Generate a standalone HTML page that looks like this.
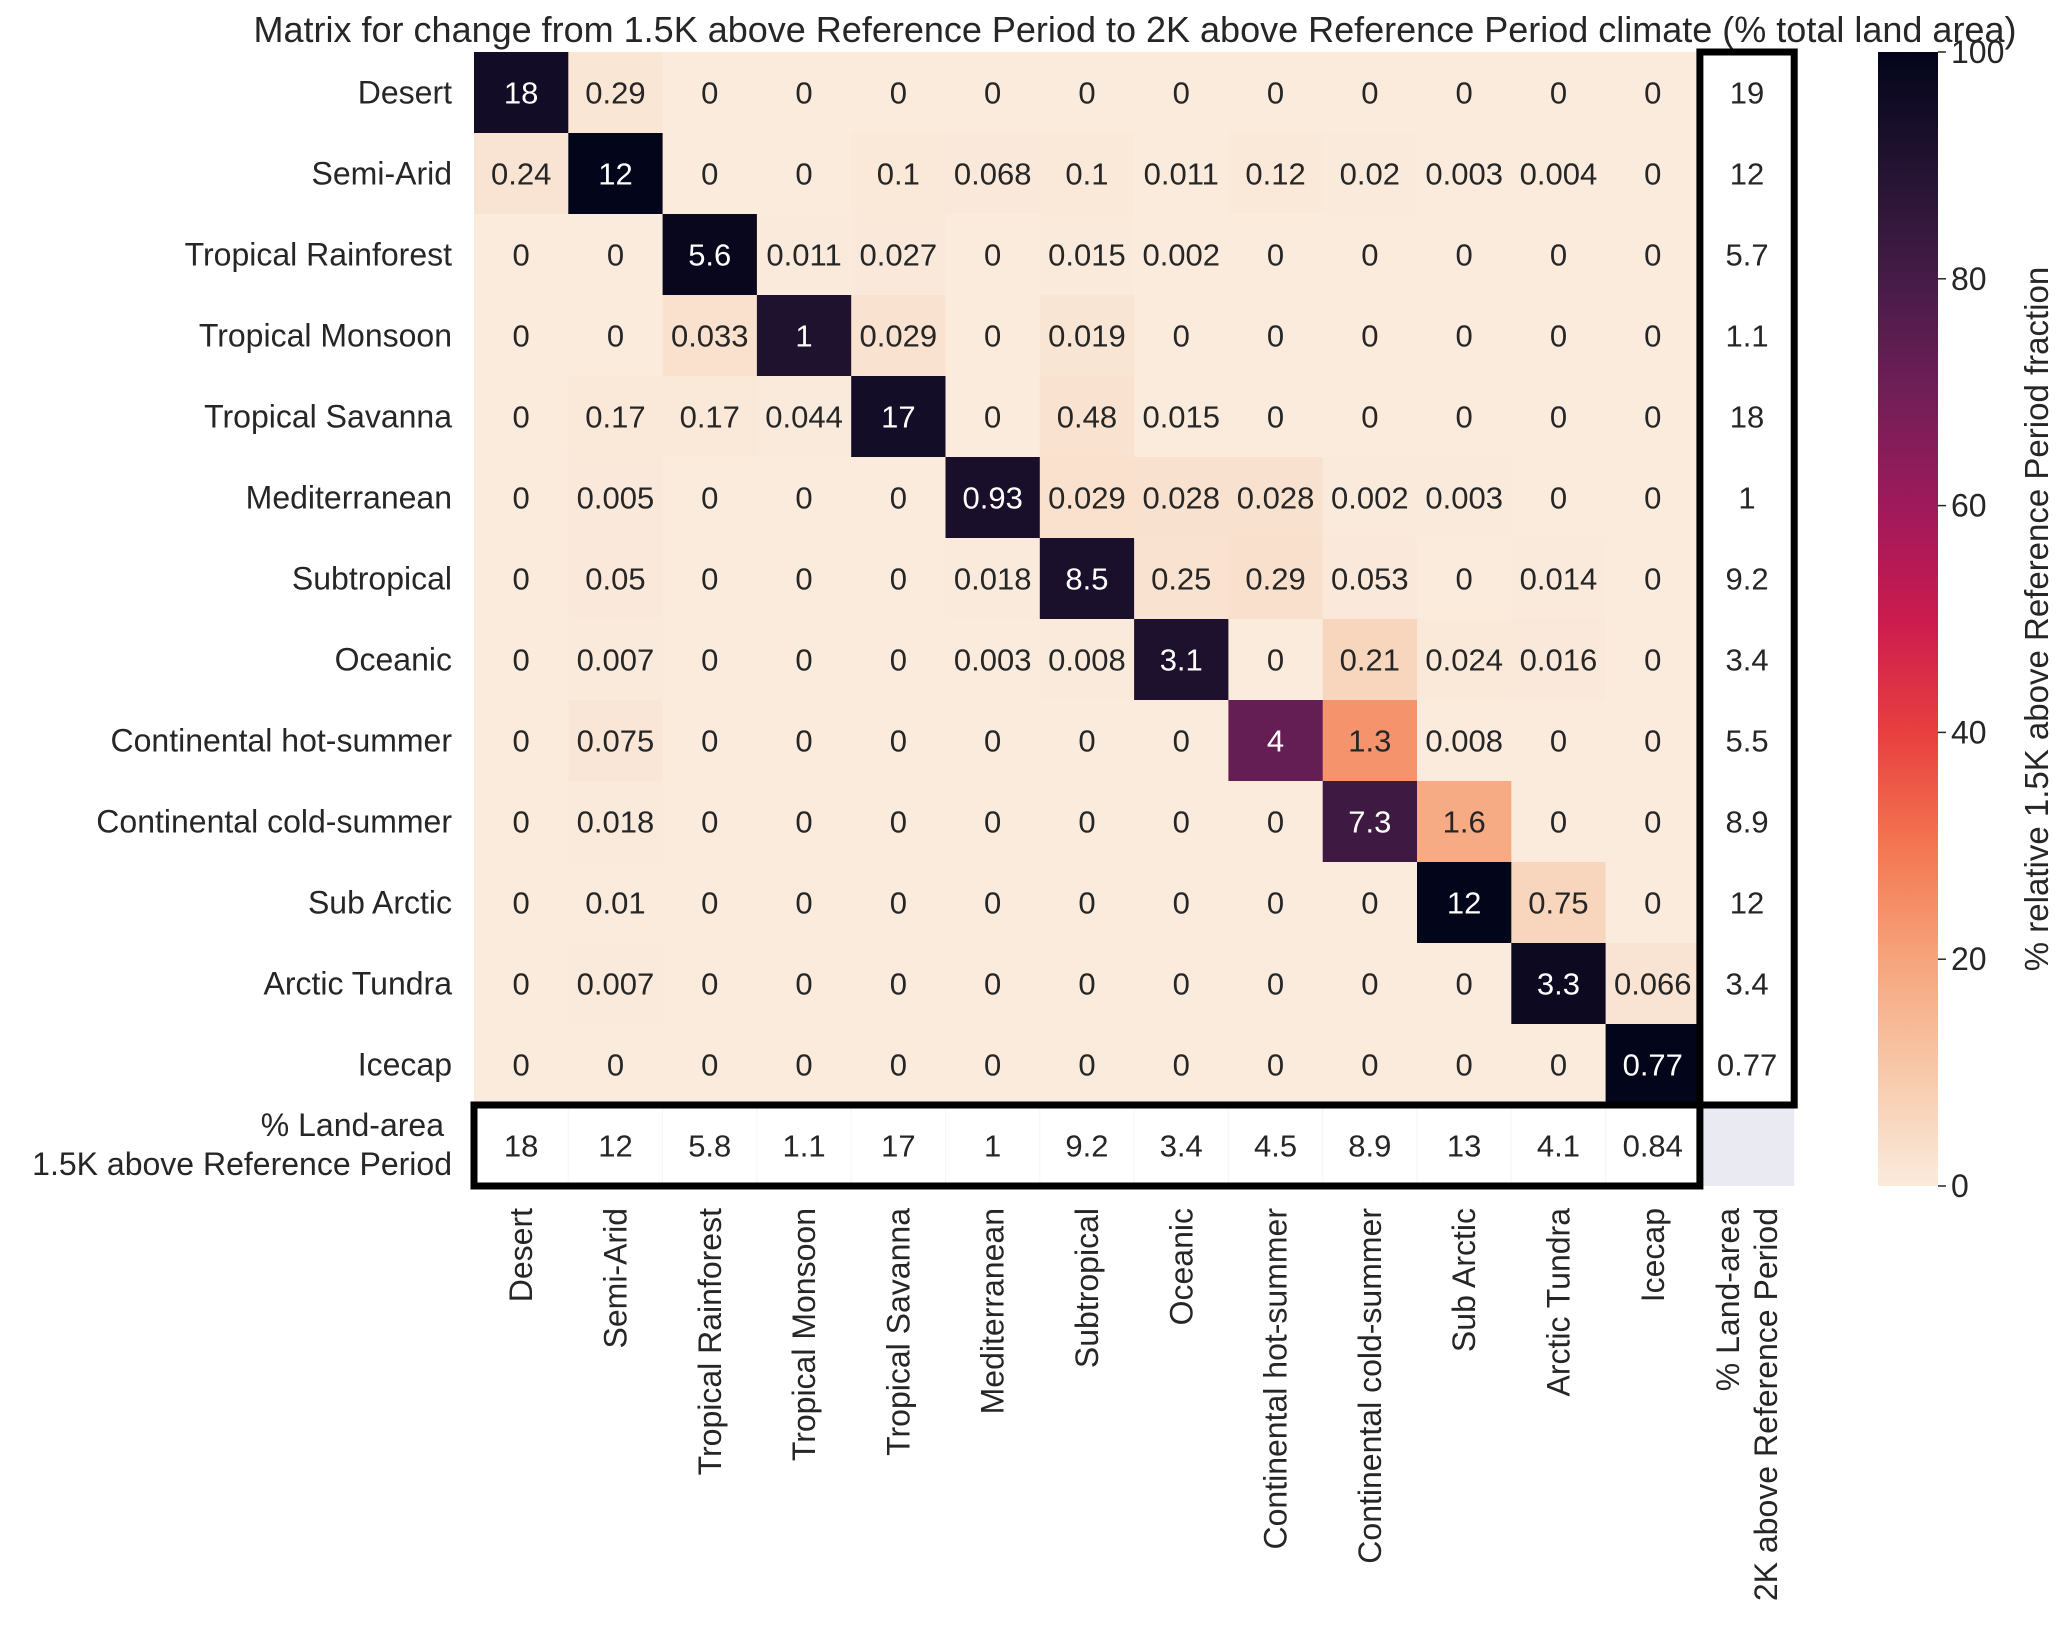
<!DOCTYPE html>
<html><head><meta charset="utf-8"><style>
html,body{margin:0;padding:0;background:#fff;}
svg{display:block;font-family:"Liberation Sans",Arial,sans-serif;}
</style></head><body>
<svg id="chart" width="2067" height="1629" viewBox="0 0 2067 1629" xmlns="http://www.w3.org/2000/svg">
<text x="1135" y="42" text-anchor="middle" font-size="36" fill="#262626">Matrix for change from 1.5K above Reference Period to 2K above Reference Period climate (% total land area)</text>
<g id="cells"></g><g id="labels"></g><g id="cbar"></g>
</svg>
<script>
const categories=["Desert","Semi-Arid","Tropical Rainforest","Tropical Monsoon","Tropical Savanna","Mediterranean","Subtropical","Oceanic","Continental hot-summer","Continental cold-summer","Sub Arctic","Arctic Tundra","Icecap"];
const matrixValues=[
[18,0.29,0,0,0,0,0,0,0,0,0,0,0],
[0.24,12,0,0,0.1,0.068,0.1,0.011,0.12,0.02,0.003,0.004,0],
[0,0,5.6,0.011,0.027,0,0.015,0.002,0,0,0,0,0],
[0,0,0.033,1,0.029,0,0.019,0,0,0,0,0,0],
[0,0.17,0.17,0.044,17,0,0.48,0.015,0,0,0,0,0],
[0,0.005,0,0,0,0.93,0.029,0.028,0.028,0.002,0.003,0,0],
[0,0.05,0,0,0,0.018,8.5,0.25,0.29,0.053,0,0.014,0],
[0,0.007,0,0,0,0.003,0.008,3.1,0,0.21,0.024,0.016,0],
[0,0.075,0,0,0,0,0,0,4,1.3,0.008,0,0],
[0,0.018,0,0,0,0,0,0,0,7.3,1.6,0,0],
[0,0.01,0,0,0,0,0,0,0,0,12,0.75,0],
[0,0.007,0,0,0,0,0,0,0,0,0,3.3,0.066],
[0,0,0,0,0,0,0,0,0,0,0,0,0.77]];
const rowTotals2K=[19,12,5.7,1.1,18,1,9.2,3.4,5.5,8.9,12,3.4,0.77];
const colTotals15K=[18,12,5.8,1.1,17,1,9.2,3.4,4.5,8.9,13,4.1,0.84];
const cbarTicks=[0,20,40,60,80,100];

const NS="http://www.w3.org/2000/svg";
const X0=474,Y0=52,CW=94.3,RH=81,FS=31,LFS=32;
const xPos=i=>X0+i*CW, yPos=j=>Y0+j*RH;
const stops=["#faebdd","#f7c9aa","#f6a47c","#f37651","#e83f3f","#cb1b4f","#9e1a5b","#701f57","#451c47","#221331","#03051a"];
function hex(h){return [1,3,5].map(k=>parseInt(h.substr(k,2),16));}
function cmap(p){p=Math.max(0,Math.min(100,p))/10;const i=Math.min(9,Math.floor(p)),f=p-i;const a=hex(stops[i]),b=hex(stops[i+1]);return "rgb("+a.map((v,k)=>Math.round(v+(b[k]-v)*f)).join(",")+")";}
function el(tag,attrs,parent,txt){const e=document.createElementNS(NS,tag);for(const k in attrs)e.setAttribute(k,attrs[k]);if(txt!==undefined)e.textContent=txt;parent.appendChild(e);return e;}
const gc=document.getElementById("cells"),gl=document.getElementById("labels"),gb=document.getElementById("cbar");
const n=categories.length;
for(let r=0;r<n;r++){for(let c=0;c<n;c++){
  const v=matrixValues[r][c];const pct=v/rowTotals2K[r]*100;
  const rect=el("rect",{x:xPos(c),y:yPos(r),width:CW+0.5,height:RH+0.5,fill:cmap(pct)},gc);
  
  
  const t=el("text",{x:xPos(c)+CW/2,y:yPos(r)+RH/2+11,"text-anchor":"middle","font-size":FS,fill:pct>50?"#fff":"#262626"},gc,String(v));
  
  
}}
for(let r=0;r<n;r++){
  const rect=el("rect",{x:xPos(n),y:yPos(r),width:CW,height:RH,fill:"#fff"},gc);
  
  
  const t=el("text",{x:xPos(n)+CW/2,y:yPos(r)+RH/2+11,"text-anchor":"middle","font-size":FS,fill:"#262626"},gc,String(rowTotals2K[r]));
  
  
}
for(let c=0;c<n;c++){
  const rect=el("rect",{x:xPos(c),y:yPos(n),width:CW,height:RH,fill:"#fff",stroke:"#f6f6f6","stroke-width":1},gc);
  
  
  const t=el("text",{x:xPos(c)+CW/2,y:yPos(n)+RH/2+11,"text-anchor":"middle","font-size":FS,fill:"#262626"},gc,String(colTotals15K[c]));
  
  
}
const corner=el("rect",{x:xPos(n),y:yPos(n),width:CW,height:RH,fill:"#eaeaf2"},gc);


const box1=el("rect",{x:xPos(n),y:yPos(0),width:CW,height:RH*n,fill:"none",stroke:"#000","stroke-width":7},gc);


const box2=el("rect",{x:xPos(0),y:yPos(n),width:CW*n,height:RH,fill:"none",stroke:"#000","stroke-width":7},gc);


for(let r=0;r<n;r++){
  const t=el("text",{x:452,y:yPos(r)+RH/2+11,"text-anchor":"end","font-size":LFS,fill:"#262626"},gl,categories[r]);
  
  
}
const yl1=el("text",{x:444,y:yPos(n)+31,"text-anchor":"end","font-size":LFS,fill:"#262626"},gl,"% Land-area");


const yl2=el("text",{x:452,y:yPos(n)+70,"text-anchor":"end","font-size":LFS,fill:"#262626"},gl,"1.5K above Reference Period");


for(let c=0;c<n;c++){
  const cx=xPos(c)+CW/2+11;
  const t=el("text",{x:cx,y:1208,"text-anchor":"end","font-size":LFS,fill:"#262626",transform:"rotate(-90 "+cx+" 1208)"},gl,categories[c]);
  
  
}
{const cx=xPos(n)+CW/2-8;
const t1=el("text",{x:cx,y:1208,"text-anchor":"end","font-size":LFS,fill:"#262626",transform:"rotate(-90 "+cx+" 1208)"},gl,"% Land-area");


const cx2=cx+38;
const t2=el("text",{x:cx2,y:1208,"text-anchor":"end","font-size":LFS,fill:"#262626",transform:"rotate(-90 "+cx2+" 1208)"},gl,"2K above Reference Period");

}
const CBX=1878,CBW=60,CBT=52,CBB=1186;
const defs=el("defs",{},gb);
const grad=el("linearGradient",{id:"cg",x1:0,y1:1,x2:0,y2:0},defs);
for(let k=0;k<=10;k++)el("stop",{offset:(k*10)+"%","stop-color":stops[k]},grad);
const cb=el("rect",{x:CBX,y:CBT,width:CBW,height:CBB-CBT,fill:"url(#cg)"},gb);


const cy=v=>CBB-(v/100)*(CBB-CBT);
for(const v of cbarTicks){
  const tk=el("line",{x1:CBX+CBW,x2:CBX+CBW+8,y1:cy(v),y2:cy(v),stroke:"#262626","stroke-width":1.5},gb);
  
  
  const t=el("text",{x:CBX+CBW+13,y:cy(v)+11,"font-size":LFS,fill:"#262626"},gb,String(v));
  
  
}
const cbl=el("text",{x:2048,y:619,"text-anchor":"middle","font-size":33,fill:"#262626",transform:"rotate(-90 2048 619)"},gb,"% relative 1.5K above Reference Period fraction");


</script>
</body></html>
